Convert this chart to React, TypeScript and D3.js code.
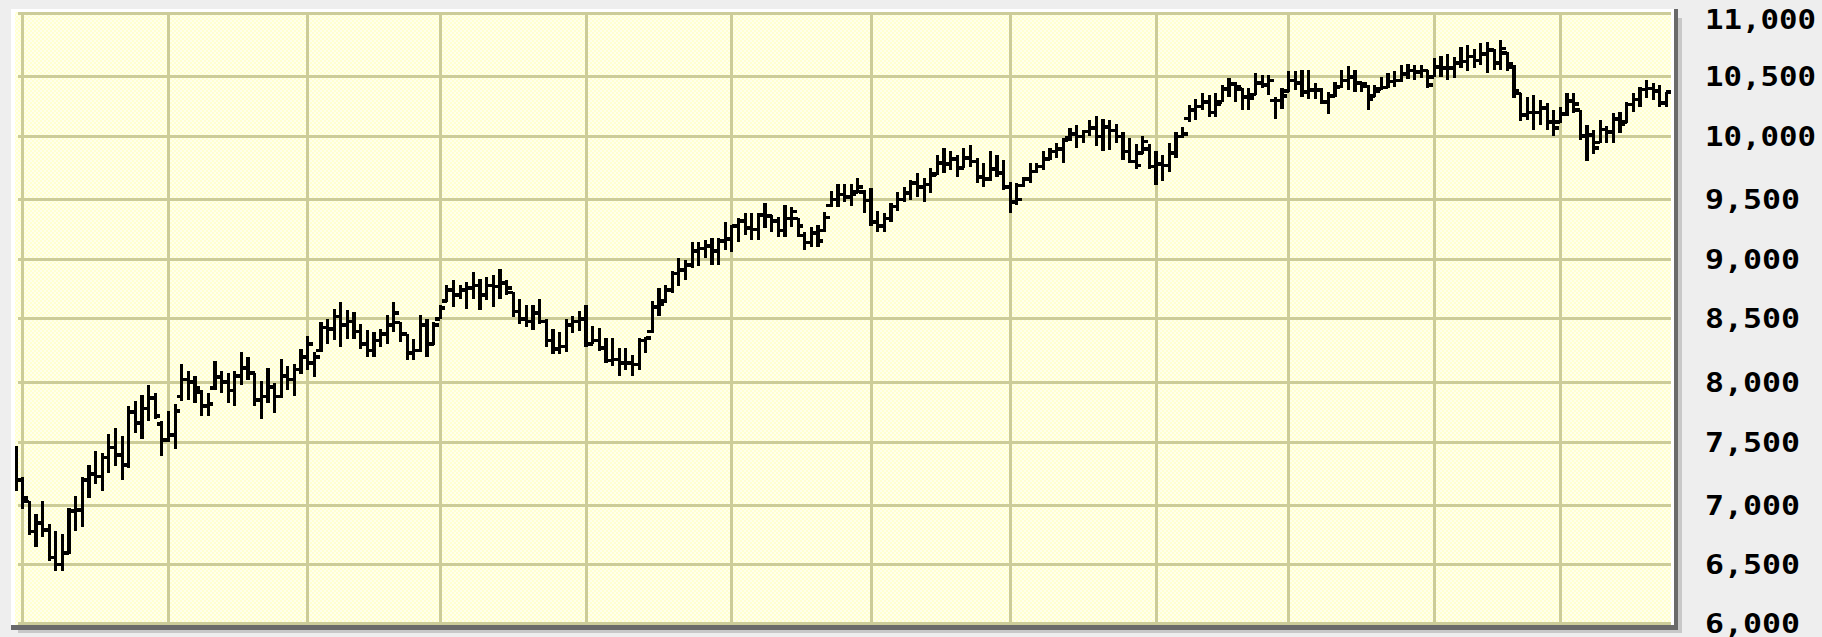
import React from "react";
import * as d3 from "d3";

// ---- Data (daily OHLC) ----
const opens = [
  7440,7200,7030,6780,6850,6790,6560,6500,6600,6950,6960,7200,7250,7230,7380,7460,7400,7320,7750,7660,
  7780,7870,7650,7520,7560,7880,8020,8000,7920,7800,7950,8040,8000,7930,8050,8110,8070,7850,7880,7960,
  7880,8050,8020,8100,8200,8150,8250,8430,8420,8520,8450,8480,8400,8300,8250,8330,8380,8450,8470,8380,
  8230,8250,8450,8300,8500,8650,8740,8700,8740,8760,8780,8700,8780,8770,8800,8720,8560,8500,8480,8550,
  8480,8330,8260,8280,8450,8480,8500,8300,8330,8270,8170,8180,8150,8150,8140,8330,8400,8600,8650,8740,
  8880,8910,8950,9070,9090,9110,9070,9150,9170,9280,9320,9260,9250,9370,9360,9320,9240,9340,9340,9200,
  9140,9220,9240,9450,9500,9540,9520,9560,9560,9490,9310,9280,9340,9440,9500,9550,9630,9600,9620,9700,
  9790,9780,9820,9750,9830,9800,9680,9660,9740,9710,9600,9480,9610,9660,9720,9760,9820,9880,9900,9990,
  10020,10000,10040,10070,10000,10080,10050,10000,9880,9800,9870,9900,9760,9780,9770,9870,10000,10150,10220,10250,
  10290,10200,10290,10400,10440,10400,10330,10350,10450,10430,10300,10300,10380,10470,10450,10370,10390,10390,10290,10340,
  10420,10470,10500,10450,10420,10340,10400,10410,10460,10470,10520,10550,10540,10550,10500,10580,10570,10570,10610,10620,
  10660,10630,10680,10710,10610,10690,10580,10360,10180,10200,10200,10240,10120,10120,10185,10296,10220,10002,10012,9950,
  10058,10038,10144,10120,10268,10309,10392,10402,10383,10282,10374,
];
const highs = [
  7472,7225,7034,6924,7034,6842,6787,6760,6979,7075,7225,7321,7431,7417,7568,7622,7554,7800,7841,7896,
  7978,7910,7677,7759,7814,8142,8088,8047,7937,7910,8170,8088,8074,8088,8238,8197,8074,8005,8115,7992,
  8184,8129,8140,8263,8368,8237,8474,8500,8584,8640,8570,8556,8461,8408,8395,8421,8528,8640,8474,8382,
  8342,8528,8500,8474,8612,8781,8823,8781,8809,8893,8837,8851,8865,8921,8823,8725,8669,8612,8612,8669,
  8500,8421,8395,8500,8520,8564,8619,8440,8429,8349,8349,8270,8270,8217,8349,8360,8647,8758,8786,8897,
  9008,8994,9147,9147,9161,9175,9175,9314,9290,9342,9383,9383,9383,9467,9370,9356,9453,9439,9342,9231,
  9272,9286,9397,9564,9620,9620,9620,9668,9574,9588,9402,9388,9468,9561,9601,9654,9707,9668,9747,9854,
  9907,9880,9854,9907,9934,9827,9787,9880,9854,9814,9641,9628,9681,9787,9787,9880,9907,9947,9987,10067,
  10093,10053,10133,10173,10146,10133,10106,10040,9985,9938,10000,9938,9882,9854,9950,10037,10080,10261,10317,10360,
  10346,10360,10430,10486,10458,10402,10402,10528,10514,10514,10331,10402,10542,10542,10556,10556,10444,10402,10374,10458,
  10556,10584,10556,10458,10430,10430,10500,10528,10542,10590,10600,10597,10590,10556,10650,10667,10681,10653,10736,10750,
  10722,10764,10778,10722,10792,10700,10590,10361,10333,10347,10306,10278,10222,10250,10361,10361,10222,10097,10056,10139,
  10083,10194,10208,10292,10361,10417,10472,10444,10431,10375,10380,
];
const lows = [
  7116,6965,6746,6651,6733,6527,6445,6445,6590,6787,6815,7061,7171,7116,7253,7308,7198,7300,7581,7526,
  7677,7691,7390,7499,7444,7841,7855,7828,7718,7718,7937,7910,7828,7800,7978,8019,7800,7691,7828,7745,
  7870,7937,7882,8066,8092,8039,8237,8303,8329,8276,8342,8342,8263,8197,8197,8276,8303,8395,8316,8171,
  8171,8237,8197,8290,8500,8640,8598,8669,8584,8669,8570,8654,8598,8669,8697,8514,8461,8434,8408,8461,
  8276,8224,8224,8237,8390,8400,8280,8300,8243,8151,8124,8045,8098,8045,8098,8230,8389,8522,8633,8717,
  8772,8828,8925,8939,9008,8953,8953,9078,9064,9147,9203,9161,9161,9258,9231,9189,9189,9272,9189,9078,
  9106,9106,9231,9439,9439,9481,9445,9548,9388,9282,9229,9229,9308,9402,9481,9495,9521,9481,9548,9694,
  9707,9734,9681,9747,9761,9628,9601,9650,9681,9574,9388,9455,9601,9628,9707,9734,9814,9827,9787,9960,
  9907,9947,10000,9920,9880,9894,9947,9814,9786,9742,9860,9742,9615,9643,9714,9826,9990,10121,10135,10219,
  10163,10163,10289,10331,10289,10219,10219,10346,10402,10346,10149,10233,10374,10388,10331,10317,10317,10275,10191,10331,
  10402,10388,10374,10374,10219,10331,10388,10402,10416,10458,10480,10472,10486,10403,10500,10500,10472,10486,10569,10542,
  10569,10597,10528,10556,10556,10542,10319,10125,10139,10056,10097,10056,10000,10111,10167,10194,9972,9806,9861,9944,
  9944,9944,10028,10111,10208,10250,10319,10306,10250,10250,10139,
];
const closes = [
  7200,7060,6780,6850,6790,6560,6500,6600,6950,6960,7200,7250,7230,7380,7460,7400,7320,7750,7660,7780,
  7870,7720,7520,7560,7760,8020,8000,7950,7800,7820,8040,8000,7930,8050,8110,8070,7850,7880,7960,7880,
  8050,8020,8100,8200,8300,8200,8430,8420,8520,8450,8480,8400,8300,8250,8330,8380,8450,8550,8380,8230,
  8250,8450,8300,8450,8590,8740,8700,8740,8760,8780,8700,8780,8770,8800,8760,8560,8500,8480,8550,8480,
  8330,8260,8280,8450,8480,8500,8300,8330,8270,8170,8180,8150,8150,8140,8330,8350,8600,8620,8740,8880,
  8910,8950,9070,9090,9110,9070,9150,9170,9280,9320,9260,9250,9370,9360,9320,9240,9340,9400,9280,9140,
  9220,9150,9350,9500,9540,9520,9540,9600,9490,9310,9280,9340,9440,9500,9550,9630,9600,9620,9690,9790,
  9780,9820,9750,9830,9800,9680,9660,9740,9710,9600,9480,9500,9660,9720,9760,9820,9880,9900,9970,10020,
  10000,10040,10070,10000,10080,10050,10000,9880,9800,9770,9960,9760,9780,9770,9870,10000,10020,10220,10250,10290,
  10200,10270,10400,10440,10420,10330,10320,10450,10430,10470,10300,10340,10470,10450,10370,10390,10390,10290,10340,10410,
  10470,10500,10450,10440,10310,10380,10410,10460,10470,10520,10550,10540,10550,10430,10580,10570,10570,10610,10620,10660,
  10630,10680,10710,10610,10725,10600,10380,10180,10200,10200,10240,10120,10070,10185,10296,10270,10002,10012,9908,10058,
  10038,10144,10099,10268,10309,10392,10402,10383,10282,10374,10321,
];
// index of the first trading day of each month (vertical grid lines)
const monthStarts = [1, 23, 44, 64, 86, 108, 129, 150, 172, 192, 214, 233];
const yTicks = [6000, 6500, 7000, 7500, 8000, 8500, 9000, 9500, 10000, 10500, 11000];

const W = 1822;
const H = 637;

export default function App() {
  const n = opens.length;
  // plot area
  const px0 = 15, px1 = 1671, py0 = 12, py1 = 625;
  const x = d3.scaleLinear().domain([0, 250]).range([16.07, 16.07 + 6.628 * 250]);
  const y = d3
    .scaleLinear()
    .domain(yTicks)
    .range([623.3, 564.6, 505.3, 442.3, 382.1, 318.8, 259.2, 199.5, 136.3, 76.8, 13.7]);
  const fmt = d3.format(",");
  const bw = 3.2;
  const th = 3.6;
  const tick = 3.6;
  const idx = d3.range(n);

  return (
    <svg
      width={W}
      height={H}
      style={{ position: "absolute", left: 0, top: 0, display: "block" }}
      xmlns="http://www.w3.org/2000/svg"
    >
      <defs>
        <pattern id="chk" width="4" height="4" patternUnits="userSpaceOnUse">
          <rect width="4" height="4" fill="#FFFFEC" />
          <rect width="2" height="2" fill="#FFFFD0" />
          <rect x="2" y="2" width="2" height="2" fill="#FFFFD0" />
        </pattern>
        <clipPath id="plotClip">
          <rect x={px0} y={py0} width={px1 - px0} height={py1 - py0} />
        </clipPath>
      </defs>
      <rect width={W} height={H} fill="#EEEEEE" />
      {/* frame */}
      <rect x={18} y={18} width={1664} height={615} fill="#C8C8C8" />
      <rect x={11} y={9} width={1667} height={621} fill="#6A6A6A" />
      <rect x={11} y={9} width={1663} height={616} fill="#FFFFFF" />
      <rect x={px0} y={py0} width={px1 - px0} height={py1 - py0} fill="url(#chk)" />
      {/* grid */}
      <g stroke="#CCCC99" strokeWidth={3} shapeRendering="crispEdges">
        {yTicks.map((t) => (
          <line key={"h" + t} x1={18} x2={px1} y1={y(t)} y2={y(t)} />
        ))}
        {monthStarts.map((m) => (
          <line key={"v" + m} x1={x(m)} x2={x(m)} y1={py0} y2={py1 - 1} />
        ))}
      </g>
      {/* OHLC bars */}
      <g clipPath="url(#plotClip)" fill="#000" shapeRendering="crispEdges">
        {idx.map((i) => {
          const cx = x(i);
          const yh = y(highs[i]);
          const yl = y(lows[i]);
          const yo = y(opens[i]);
          const yc = y(closes[i]);
          return (
            <g key={i}>
              <rect x={cx - bw / 2} y={yh} width={bw} height={Math.max(1, yl - yh)} />
              <rect x={cx - bw / 2 - tick} y={yo - th / 2} width={tick + bw / 2} height={th} />
              <rect x={cx} y={yc - th / 2} width={tick + bw / 2} height={th} />
            </g>
          );
        })}
      </g>
      {/* y axis labels (right) */}
      <g fontFamily="'DejaVu Sans Mono', monospace" fontSize={27} fontWeight="bold" fill="#000">
        {yTicks.map((t) => {
          const s = fmt(t);
          return (
            <text
              key={"l" + t}
              x={1705}
              y={Math.min(Math.max(y(t), 19), 623)}
              dominantBaseline="central"
              textLength={s.length === 6 ? 111 : 95}
              lengthAdjust="spacingAndGlyphs"
            >
              {s}
            </text>
          );
        })}
      </g>
    </svg>
  );
}
